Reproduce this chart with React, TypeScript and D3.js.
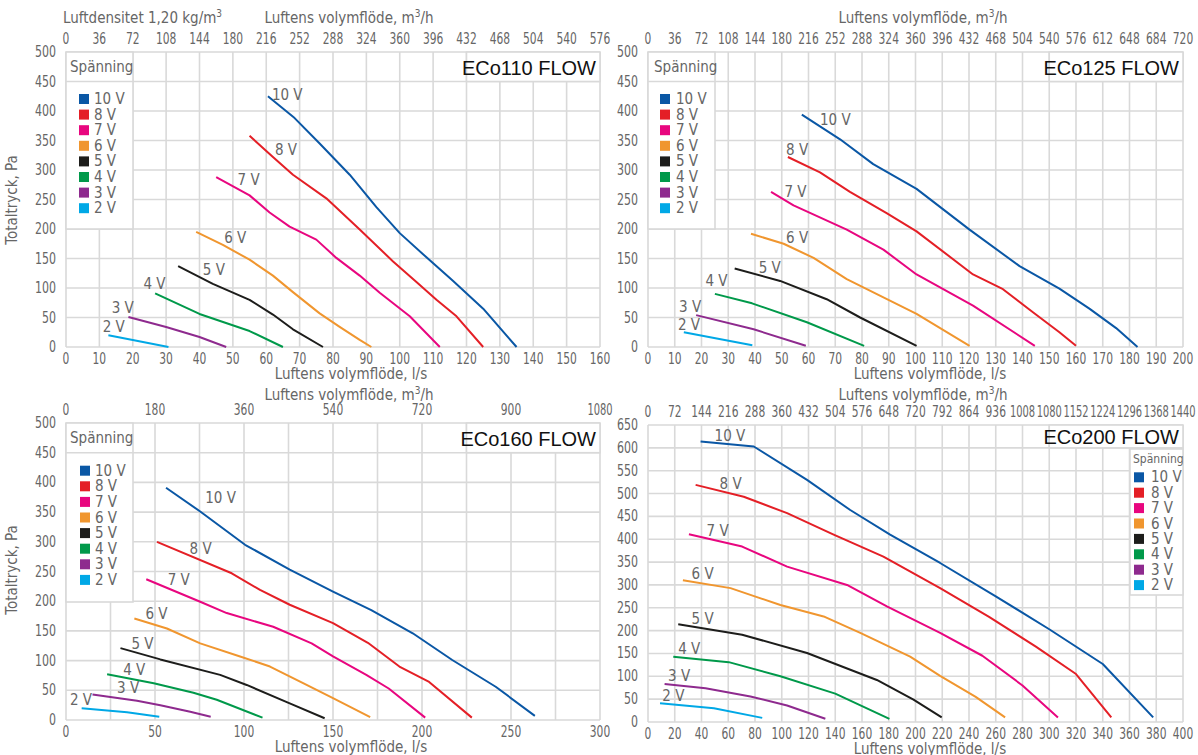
import React from "react";
import * as d3 from "d3";

const VOLTAGES = ["10 V", "8 V", "7 V", "6 V", "5 V", "4 V", "3 V", "2 V"];
const COLORS = ["#0a57a5", "#e41f26", "#e8067f", "#f0962f", "#1d1d1b", "#00994a", "#8e2a8e", "#00a8e6"];

// ECo110 FLOW: [l/s, Pa]
const ECO110_CURVES: [number, number][][] = [
  [[60.5, 425], [68.5, 388], [76, 345], [85, 292], [93, 237], [100, 193], [108, 152], [116, 112], [125, 65], [135, 0]],
  [[55, 358], [62, 322], [68, 292], [78, 252], [88, 199], [98, 145], [105, 110], [111, 80], [117, 52], [125, 0]],
  [[45, 288], [55, 257], [61, 228], [67, 204], [75, 182], [81, 151], [88, 121], [94, 92], [103, 52], [112, 0]],
  [[39, 195], [47, 173], [55, 148], [62, 121], [68, 93], [76, 57], [82, 34], [88, 12], [91.5, 0]],
  [[33.6, 137], [44, 107], [55, 80], [62, 55], [68, 30], [77, 0]],
  [[26.7, 91], [40, 56], [55, 27], [65, 0]],
  [[18.7, 51], [30, 34], [40, 17], [48, 0]],
  [[12.7, 20], [20, 12], [30.7, 0]],
];
const ECO110_LABELS: [number, number][] = [
  [61.7, 418], [62.6, 325], [51.4, 274], [47.4, 177], [41, 122], [23.2, 99], [13.7, 57], [11, 25],
];

// ECo125 FLOW
const ECO125_CURVES: [number, number][][] = [
  [[57.5, 394], [71.8, 352], [84.2, 310], [100.4, 268], [120.2, 199], [138.9, 137], [153.8, 99], [165, 65], [175, 32], [183, 0]],
  [[52.3, 322], [64.3, 296], [75.5, 263], [89.2, 227], [100.4, 196], [121.5, 123], [132.7, 98], [143.9, 59], [153.8, 25], [160, 2]],
  [[46, 263], [54.4, 240], [74.3, 199], [88, 165], [100.4, 123], [121.5, 70], [144.6, 2]],
  [[38.5, 192], [50.7, 175], [61.9, 151], [74.3, 115], [100.4, 56], [120.2, 2]],
  [[32.4, 133], [49.4, 112], [66.8, 81], [79.3, 50], [100.4, 2]],
  [[25, 90], [38.9, 74], [59.4, 42], [80.8, 2]],
  [[18, 54], [39.5, 30], [59, 2]],
  [[13.4, 25], [39, 3]],
];
const ECO125_LABELS: [number, number][] = [
  [64.3, 376], [51.6, 326], [51, 254], [51.6, 176], [41.4, 125], [21.5, 103.5], [11.6, 60], [11.2, 28],
];

// ECo160 FLOW
const ECO160_CURVES: [number, number][][] = [
  [[56.2, 391], [75.4, 351], [100.6, 295], [125.7, 253], [150, 216], [171.5, 185], [194.8, 146], [217, 101], [241.4, 56], [263.4, 7]],
  [[51.1, 300], [93.1, 247], [109, 219], [125.7, 194], [150, 163], [169.6, 130], [187.3, 90], [204, 64], [228, 4]],
  [[45.1, 237], [75.4, 199], [90.3, 180], [116.4, 157], [138, 129], [150, 107], [168.7, 76], [181.3, 53], [201.8, 4]],
  [[38.4, 171], [56.7, 154], [75.4, 129], [97.8, 107], [114.6, 90], [133.2, 62], [150, 37], [170.9, 5]],
  [[30.6, 121], [53, 102], [86.6, 76], [101.5, 59], [125.7, 28], [145.3, 3]],
  [[23.1, 77], [49.3, 62], [71.6, 46], [84.7, 34], [110.4, 4]],
  [[14.9, 43], [39.9, 32.5], [53, 25], [69.8, 14], [81.3, 5.6]],
  [[8.8, 19.6], [34.3, 13], [52.4, 5.6]],
];
const ECO160_LABELS: [number, number][] = [
  [78.2, 365], [69.4, 279.5], [57.1, 227], [44.6, 169.5], [36.8, 119], [32.1, 76], [28.7, 45], [2.2, 25],
];

// ECo200 FLOW
const ECO200_CURVES: [number, number][][] = [
  [[39.3, 614], [79.1, 603], [118.9, 530], [151.2, 464], [181, 410], [218.4, 348], [260, 275], [300, 203], [340, 127], [377.7, 10]],
  [[35.6, 519], [71.6, 493], [104, 457], [138.8, 410], [176, 362], [218.4, 293], [255, 230], [290, 165], [320, 105], [346.4, 10]],
  [[30.6, 411], [70.4, 384], [104, 340], [148.8, 300], [178.6, 253], [218.4, 195], [250, 145], [280, 80], [306.5, 10]],
  [[26.1, 310], [61.7, 293], [99, 256], [131.3, 231], [158.7, 195], [196, 143], [218.4, 101], [245, 55], [267, 10]],
  [[22.6, 214], [70.4, 191], [118.9, 151], [171.1, 92], [198.5, 49], [219.6, 10]],
  [[18.9, 143], [60.4, 131], [99, 100], [140, 62], [180.5, 7]],
  [[12.4, 83], [43, 74], [76.6, 56], [104, 36], [132.6, 7]],
  [[9, 41], [49.3, 30], [85.4, 9]],
];
const ECO200_LABELS: [number, number][] = [
  [49.8, 616], [53.5, 509], [43.8, 408], [32.6, 312.5], [32.6, 215], [22.6, 149], [15, 89], [10.7, 45],
];

// tick labels
const ECO110_X_TICKS = [0, 10, 20, 30, 40, 50, 60, 70, 80, 90, 100, 110, 120, 130, 140, 150, 160];
const ECO110_TOP_TICKS = [0, 36, 72, 108, 144, 180, 216, 252, 288, 324, 360, 396, 432, 468, 504, 540, 576];
const ECO125_X_TICKS = [0, 10, 20, 30, 40, 50, 60, 70, 80, 90, 100, 110, 120, 130, 140, 150, 160, 170, 180, 190, 200];
const ECO125_TOP_TICKS = [0, 36, 72, 108, 144, 180, 216, 252, 288, 324, 360, 396, 432, 468, 504, 540, 576, 612, 648, 684, 720];
const ECO160_X_TICKS = [0, 50, 100, 150, 200, 250, 300];
const ECO160_X_GRID = [0, 25, 50, 75, 100, 125, 150, 175, 200, 225, 250, 275, 300];
const ECO160_TOP_TICKS = [0, 180, 360, 540, 720, 900, 1080];
const ECO200_X_TICKS = [0, 20, 40, 60, 80, 100, 120, 140, 160, 180, 200, 220, 240, 260, 280, 300, 320, 340, 360, 380, 400];
const ECO200_TOP_TICKS = [0, 72, 144, 216, 288, 360, 432, 504, 576, 648, 720, 792, 864, 936, 1008, 1080, 1152, 1224, 1296, 1368, 1440];
const PRESSURE_TICKS_500 = [0, 50, 100, 150, 200, 250, 300, 350, 400, 450, 500];
const PRESSURE_TICKS_650 = [0, 50, 100, 150, 200, 250, 300, 350, 400, 450, 500, 550, 600, 650];

const FONT = "'DejaVu Sans Condensed', 'Liberation Sans Narrow', 'Roboto', sans-serif";
const TITLE_FONT = "'Liberation Sans', Arial, sans-serif";
const GRID = "#d9d9d9";
const TXT = "#666666";

type PanelProps = {
  name: string;
  curves: [number, number][][];
  labels: [number, number][];
  xMax: number;
  yMax: number;
  xTicks: number[];
  xGrid: number[];
  yTicks: number[];
  topTicks: number[];
  box: { x0: number; x1: number; y0: number; y1: number };
  titleFrom: [number, number];
  legend: { x: number; y: number; w: number; h: number; headerY: number | null; headerSize: number; headerX: number; headerBase: number; sqX: number; textX: number; row0: number; rowStep: number };
  yTitleY: number | null;
  topTitleX: number;
  topTitleY: number;
  bottomTitleX: number;
  density: boolean;
};

function Num(props: { x: number; y: number; v: number; anchor: "start" | "middle" | "end"; w?: number }) {
  const s = String(props.v);
  const dw = props.w ?? 7.0;
  return (
    <text
      x={props.x}
      y={props.y}
      textAnchor={props.anchor}
      dominantBaseline="central"
      fontFamily={FONT}
      fontSize={15}
      fill={TXT}
      textLength={s.length * dw}
      lengthAdjust="spacingAndGlyphs"
    >
      {s}
    </text>
  );
}

function Panel(p: PanelProps) {
  const { x0, x1, y0, y1 } = p.box;
  const xs = d3.scaleLinear().domain([0, p.xMax]).range([x0, x1]);
  const ys = d3.scaleLinear().domain([0, p.yMax]).range([y1, y0]);
  const top = d3.scaleLinear().domain([0, p.xMax * 3.6]).range([x0, x1]);
  const line = d3.line<[number, number]>().x((d) => xs(d[0])).y((d) => ys(d[1]));
  const lg = p.legend;
  const tbX = xs(p.titleFrom[0]);
  const tbY = ys(p.yMax);
  const tbH = ys(p.titleFrom[1]) - tbY;
  return (
    <g>
      {p.xGrid.map((v) => (
        <line key={"gx" + v} x1={xs(v)} x2={xs(v)} y1={y0} y2={y1} stroke={GRID} strokeWidth={1.6} />
      ))}
      {p.yTicks.map((v) => (
        <line key={"gy" + v} x1={x0} x2={x1} y1={ys(v)} y2={ys(v)} stroke={GRID} strokeWidth={1.6} />
      ))}
      <rect x={tbX} y={tbY} width={x1 - tbX} height={tbH} fill="#fff" stroke={GRID} strokeWidth={1.6} />
      <text x={x1 - 4} y={tbY + tbH / 2 + 1} dominantBaseline="central" textAnchor="end" fontFamily={TITLE_FONT} fontSize={20} fill="#111">
        {p.name}
      </text>
      <rect x={lg.x} y={lg.y} width={lg.w} height={lg.h} fill="#fff" stroke={GRID} strokeWidth={1.6} />
      {lg.headerY !== null && (
        <line x1={lg.x} x2={lg.x + lg.w} y1={lg.headerY} y2={lg.headerY} stroke={GRID} strokeWidth={1.6} />
      )}
      <text x={lg.headerX} y={lg.headerBase} fontFamily={FONT} fontSize={lg.headerSize} fill={TXT}>
        Spänning
      </text>
      {VOLTAGES.map((v, i) => (
        <g key={"lg" + v}>
          <rect x={lg.sqX} y={lg.row0 + i * lg.rowStep - 5} width={10} height={10} fill={COLORS[i]} />
          <text x={lg.textX} y={lg.row0 + i * lg.rowStep} dominantBaseline="central" fontFamily={FONT} fontSize={15} fill={TXT}>
            {v}
          </text>
        </g>
      ))}
      {p.curves.map((c, i) => (
        <path key={"c" + i} d={line(c) || ""} fill="none" stroke={COLORS[i]} strokeWidth={2} strokeLinejoin="round" />
      ))}
      {p.labels.map((l, i) => (
        <text key={"l" + i} x={xs(l[0])} y={ys(l[1])} fontFamily={FONT} fontSize={15} fill={TXT}>
          {VOLTAGES[i]}
        </text>
      ))}
      {p.yTicks.map((v) => (
        <Num key={"yt" + v} x={x0 - 10} y={ys(v)} v={v} anchor="end" />
      ))}
      {p.xTicks.map((v) => (
        <Num key={"xt" + v} x={xs(v)} y={y1 + 12} v={v} anchor="middle" w={6.8} />
      ))}
      <text x={p.bottomTitleX} y={y1 + 27} textAnchor="middle" dominantBaseline="central" fontFamily={FONT} fontSize={15} fill={TXT}>
        Luftens volymflöde, l/s
      </text>
      {p.topTicks.map((v) => (
        <Num key={"tt" + v} x={top(v)} y={y0 - 13} v={v} anchor="middle" w={String(v).length > 3 ? 6.3 : 6.8} />
      ))}
      <text x={p.topTitleX} y={p.topTitleY} textAnchor="middle" dominantBaseline="central" fontFamily={FONT} fontSize={15} fill={TXT}>
        Luftens volymflöde, m<tspan fontSize={10} dy={-5}>3</tspan><tspan dy={5}>/h</tspan>
      </text>
      {p.density && (
        <text x={x0 - 3} y={p.topTitleY} dominantBaseline="central" fontFamily={FONT} fontSize={15} fill={TXT}>
          Luftdensitet 1,20 kg/m<tspan fontSize={10} dy={-5}>3</tspan>
        </text>
      )}
      {p.yTitleY !== null && (
        <text transform={`translate(12,${p.yTitleY}) rotate(-90)`} textAnchor="middle" dominantBaseline="central" fontFamily={FONT} fontSize={15} fill={TXT}>
          Totaltryck, Pa
        </text>
      )}
    </g>
  );
}

export default function App() {
  return (
    <svg width={1198} height={755} style={{ position: "absolute", left: 0, top: 0, background: "#fff" }}>
      <rect width={1198} height={755} fill="#fff" />
      <Panel
        name="ECo110 FLOW"
        curves={ECO110_CURVES}
        labels={ECO110_LABELS}
        xMax={160}
        yMax={500}
        xTicks={ECO110_X_TICKS}
        xGrid={ECO110_X_TICKS}
        yTicks={PRESSURE_TICKS_500}
        topTicks={ECO110_TOP_TICKS}
        box={{ x0: 66, x1: 600, y0: 52, y1: 347 }}
        titleFrom={[120, 450]}
        legend={{ x: 66, y: 52, w: 67, h: 177, headerY: 81.5, headerSize: 15, headerX: 70, headerBase: 72, sqX: 79, textX: 94, row0: 99, rowStep: 15.6 }}
        yTitleY={200}
        topTitleX={349}
        topTitleY={18}
        bottomTitleX={351}
        density={true}
      />
      <Panel
        name="ECo125 FLOW"
        curves={ECO125_CURVES}
        labels={ECO125_LABELS}
        xMax={200}
        yMax={500}
        xTicks={ECO125_X_TICKS}
        xGrid={ECO125_X_TICKS}
        yTicks={PRESSURE_TICKS_500}
        topTicks={ECO125_TOP_TICKS}
        box={{ x0: 648, x1: 1183, y0: 52, y1: 347 }}
        titleFrom={[150, 450]}
        legend={{ x: 648, y: 52, w: 67, h: 177, headerY: 81.5, headerSize: 15, headerX: 654, headerBase: 72, sqX: 660, textX: 676, row0: 99, rowStep: 15.6 }}
        yTitleY={null}
        topTitleX={923}
        topTitleY={18}
        bottomTitleX={930}
        density={false}
      />
      <Panel
        name="ECo160 FLOW"
        curves={ECO160_CURVES}
        labels={ECO160_LABELS}
        xMax={300}
        yMax={500}
        xTicks={ECO160_X_TICKS}
        xGrid={ECO160_X_GRID}
        yTicks={PRESSURE_TICKS_500}
        topTicks={ECO160_TOP_TICKS}
        box={{ x0: 66, x1: 600, y0: 423, y1: 720 }}
        titleFrom={[225, 450]}
        legend={{ x: 66, y: 423, w: 67, h: 179, headerY: 452.7, headerSize: 15, headerX: 70, headerBase: 443, sqX: 80, textX: 95, row0: 470.7, rowStep: 15.6 }}
        yTitleY={570}
        topTitleX={349}
        topTitleY={395}
        bottomTitleX={351}
        density={false}
      />
      <Panel
        name="ECo200 FLOW"
        curves={ECO200_CURVES}
        labels={ECO200_LABELS}
        xMax={400}
        yMax={650}
        xTicks={ECO200_X_TICKS}
        xGrid={ECO200_X_TICKS}
        yTicks={PRESSURE_TICKS_650}
        topTicks={ECO200_TOP_TICKS}
        box={{ x0: 648, x1: 1183, y0: 425, y1: 722 }}
        titleFrom={[300, 600]}
        legend={{ x: 1130, y: 449, w: 53, h: 146, headerY: null, headerSize: 12, headerX: 1133, headerBase: 463, sqX: 1134, textX: 1151, row0: 477.3, rowStep: 15.4 }}
        yTitleY={null}
        topTitleX={923}
        topTitleY={395}
        bottomTitleX={930}
        density={false}
      />
    </svg>
  );
}
